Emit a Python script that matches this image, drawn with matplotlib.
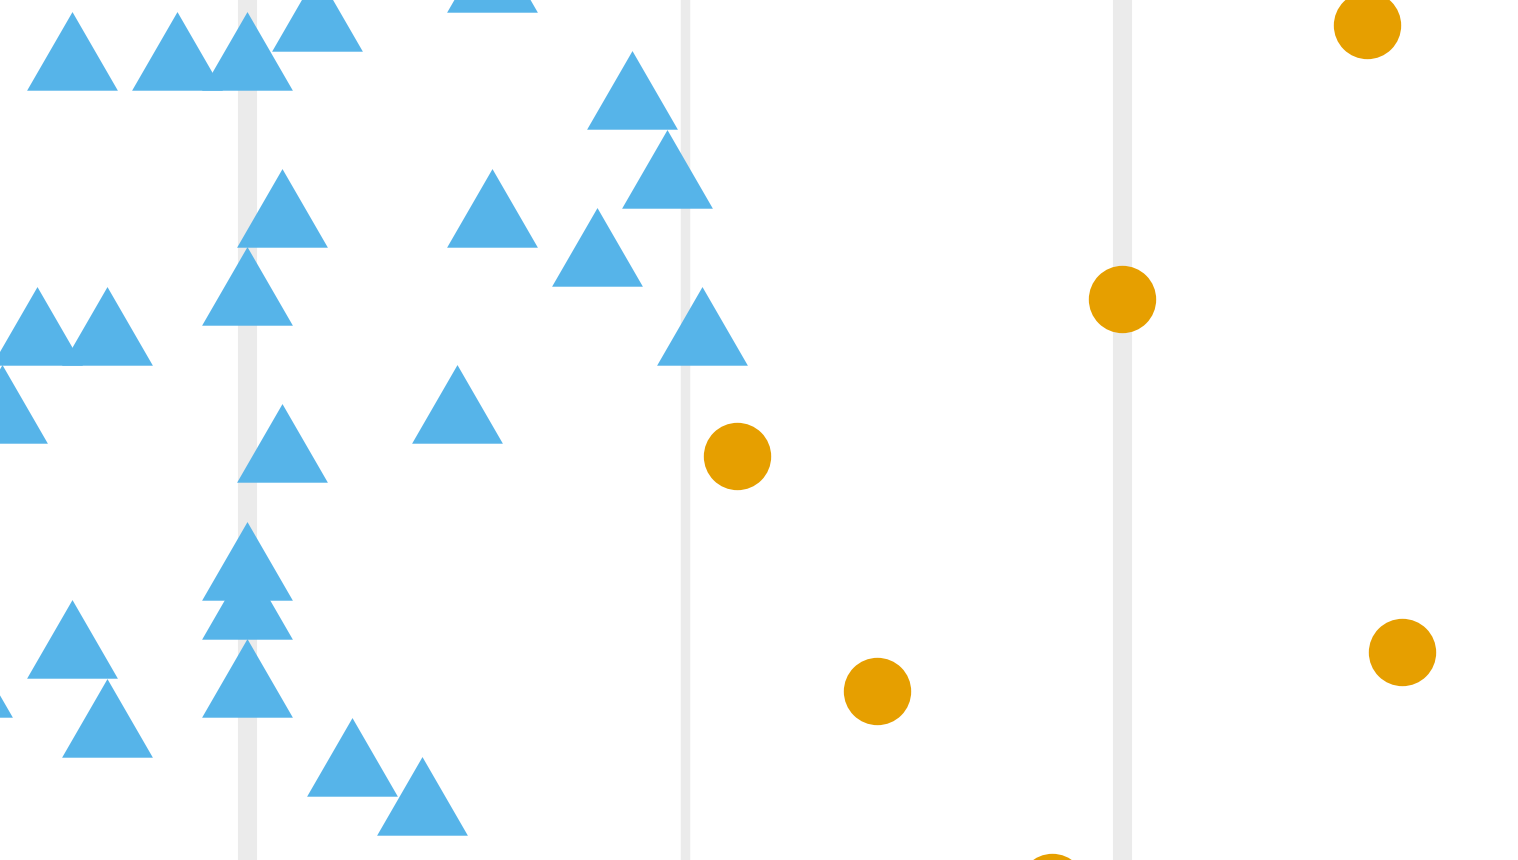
import matplotlib
matplotlib.use('Agg')
import matplotlib.pyplot as plt
from matplotlib.path import Path

# jittered positions (x column, y row)
tri_x = [2, 5, 7, 9, 14, 18, 19, 8, 14, 17, 7, 1, 3, 20, 0, 13, 8, 7, 7, 2, 7, -1, 3, 10, 12]
tri_y = [19, 19, 19, 20, 21, 18, 16, 15, 15, 14, 13, 12, 12, 12, 10, 10, 9, 6, 5, 4, 3, 3, 2, 1, 0]

dot_x = [39, 32, 21, 25, 40, 30]
dot_y = [20, 13, 9, 3, 4, -2]

major_x = [7, 32]
minor_x = [19.5]

# equilateral triangle centred on its centroid (ggplot shape 17 style)
tri = Path([(0, 1), (-0.866, -0.5), (0.866, -0.5), (0, 1)],
           [Path.MOVETO, Path.LINETO, Path.LINETO, Path.CLOSEPOLY])

fig = plt.figure(figsize=(15.18, 8.6), dpi=100)
ax = fig.add_axes([0, 0, 1, 1])

for x in major_x:
    ax.axvline(x, color='#EBEBEB', lw=13.7, zorder=0)
for x in minor_x:
    ax.axvline(x, color='#EBEBEB', lw=6.8, zorder=0)

ax.plot(tri_x, tri_y, linestyle='none', marker=tri, markersize=75.5,
        color='#56B4E9', markeredgewidth=0)
ax.plot(dot_x, dot_y, linestyle='none', marker='o', markersize=48.5,
        color='#E69F00', markeredgewidth=0)

ax.set_xlim(-2 / 35, 1516 / 35)
ax.set_ylim(-51 / 39.2, 809 / 39.2)
ax.axis('off')

fig.savefig('out.png', dpi=100)
